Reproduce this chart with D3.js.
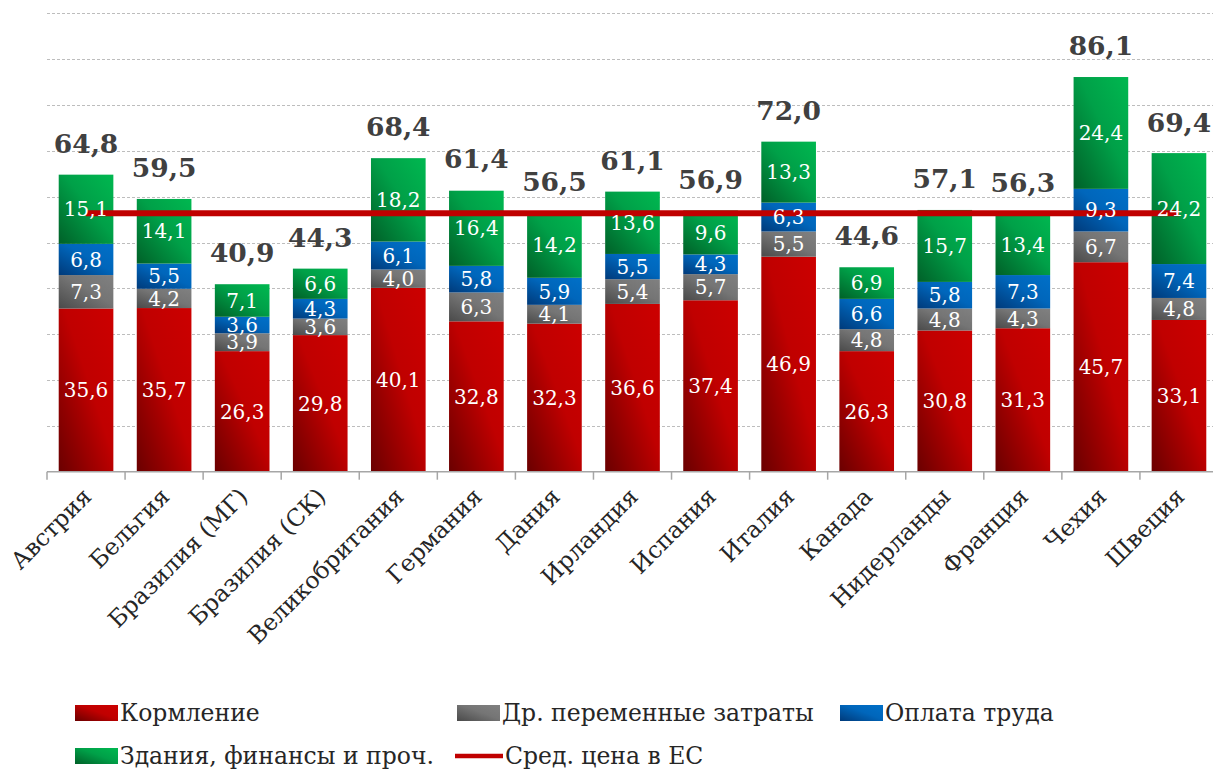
<!DOCTYPE html>
<html><head><meta charset="utf-8">
<script src="https://cdn.jsdelivr.net/npm/d3@7"></script>
<style>
html,body{margin:0;padding:0;background:#fff;}
svg{display:block;}
</style></head>
<body>
<svg id="chart" width="1213" height="771"></svg>
<script>
const categories = ["Австрия","Бельгия","Бразилия (МГ)","Бразилия (СК)","Великобритания","Германия","Дания","Ирландия","Испания","Италия","Канада","Нидерланды","Франция","Чехия","Швеция"];
const feed      = [35.6,35.7,26.3,29.8,40.1,32.8,32.3,36.6,37.4,46.9,26.3,30.8,31.3,45.7,33.1];
const otherVar  = [7.3,4.2,3.9,3.6,4.0,6.3,4.1,5.4,5.7,5.5,4.8,4.8,4.3,6.7,4.8];
const labor     = [6.8,5.5,3.6,4.3,6.1,5.8,5.9,5.5,4.3,6.3,6.6,5.8,7.3,9.3,7.4];
const buildings = [15.1,14.1,7.1,6.6,18.2,16.4,14.2,13.6,9.6,13.3,6.9,15.7,13.4,24.4,24.2];
const totals    = [64.8,59.5,40.9,44.3,68.4,61.4,56.5,61.1,56.9,72.0,44.6,57.1,56.3,86.1,69.4];
const euPrice   = 56.4;
const seriesNames = ["Кормление","Др. переменные затраты","Оплата труда","Здания, финансы и проч."];
const lineName = "Сред. цена в ЕС";
const yTicks = [10,20,30,40,50,60,70,80,90,100];

const seriesData = [feed, otherVar, labor, buildings];
const grads = [
  ["#6a0000","#c00000","#cc0000"],
  ["#4a4a4a","#757575","#808080"],
  ["#003a7a","#0066bb","#0070c8"],
  ["#006028","#00a048","#00b850"]
];

const svg = d3.select("#chart");
const W = 1213;
const pLeft = 47, pRight = 1218, pTop = 13.3, pBottom = 471.7;

const x = d3.scaleBand().domain(categories).range([pLeft, pRight]).paddingInner(0.3).paddingOuter(0.15);
const y = d3.scaleLinear().domain([0, 100]).range([pBottom, pTop]);

const defs = svg.append("defs");
grads.forEach((g, i) => {
  const lg = defs.append("linearGradient").attr("id", "g" + i)
    .attr("x1", 0).attr("y1", 1).attr("x2", 1).attr("y2", 0);
  lg.append("stop").attr("offset", "0").attr("stop-color", g[0]);
  lg.append("stop").attr("offset", "0.55").attr("stop-color", g[1]);
  lg.append("stop").attr("offset", "1").attr("stop-color", g[2]);
});

// gridlines
svg.append("g").selectAll("line").data(yTicks).join("line")
  .attr("x1", pLeft).attr("x2", W)
  .attr("y1", d => Math.round(y(d)) + 0.5).attr("y2", d => Math.round(y(d)) + 0.5)
  .attr("stroke", "#bdbdbd").attr("stroke-width", 1).attr("stroke-dasharray", "3,2");

// stacked data
const rows = categories.map((c, i) => {
  const r = {cat: c};
  seriesData.forEach((s, k) => r["s" + k] = s[i]);
  return r;
});
const stack = d3.stack().keys(["s0","s1","s2","s3"])(rows);

const segG = svg.append("g");
stack.forEach((layer, k) => {
  segG.append("g").selectAll("rect").data(layer).join("rect")
    .attr("x", d => x(d.data.cat))
    .attr("width", x.bandwidth())
    .attr("y", d => y(d[1]))
    .attr("height", d => y(d[0]) - y(d[1]))
    .attr("fill", "url(#g" + k + ")");
});

// axis
const axisG = svg.append("g").attr("transform", `translate(0,${pBottom})`);
axisG.append("line").attr("x1", pLeft).attr("x2", W).attr("y1", 0).attr("y2", 0)
  .attr("stroke", "#a6a6a6").attr("stroke-width", 1.5);
const step = x.step();
const bounds = d3.range(categories.length + 1).map(i => pLeft + i * step);
axisG.selectAll("line.tk").data(bounds).join("line").attr("class", "tk")
  .attr("x1", d => d).attr("x2", d => d).attr("y1", 0).attr("y2", 8)
  .attr("stroke", "#a6a6a6").attr("stroke-width", 1.5);

// EU price line
const cx = c => x(c) + x.bandwidth() / 2;
svg.append("line")
  .attr("x1", cx(categories[0])).attr("x2", cx(categories[categories.length - 1]))
  .attr("y1", y(euPrice)).attr("y2", y(euPrice))
  .attr("stroke", "#c00000").attr("stroke-width", 6);

// segment labels
const fmt = v => v.toFixed(1).replace(".", ",");
stack.forEach((layer, k) => {
  svg.append("g").selectAll("text").data(layer).join("text")
    .attr("x", d => cx(d.data.cat))
    .attr("y", d => (y(d[0]) + y(d[1])) / 2)
    .attr("dy", "0.36em")
    .attr("text-anchor", "middle")
    .attr("fill", "#fff")
    .attr("font-family", "DejaVu Serif, serif")
    .attr("font-size", 20)
    .text(d => fmt(d.data["s" + k]));
});

// totals
svg.append("g").selectAll("text").data(categories).join("text")
  .attr("x", c => cx(c))
  .attr("y", (c, i) => y(totals[i]) - 22)
  .attr("text-anchor", "middle")
  .attr("fill", "#404040")
  .attr("font-family", "DejaVu Serif, serif")
  .attr("font-weight", "bold")
  .attr("font-size", 26.5)
  .text((c, i) => fmt(totals[i]));

// category labels
svg.append("g").selectAll("text").data(categories).join("text")
  .attr("transform", c => `translate(${cx(c) + 7},${498}) rotate(-45)`)
  .attr("text-anchor", "end")
  .attr("fill", "#262626")
  .attr("font-family", "DejaVu Serif, serif")
  .attr("font-size", 23.5)
  .text(c => c);

// legend
const legendItems = [
  {name: seriesNames[0], type: "rect", k: 0, x: 75, y: 713},
  {name: seriesNames[1], type: "rect", k: 1, x: 457, y: 713},
  {name: seriesNames[2], type: "rect", k: 2, x: 840, y: 713},
  {name: seriesNames[3], type: "rect", k: 3, x: 75, y: 756},
  {name: lineName, type: "line", x: 455, y: 756}
];
const lgG = svg.append("g");
legendItems.forEach(it => {
  const g = lgG.append("g").attr("transform", `translate(${it.x},${it.y})`);
  if (it.type === "rect") {
    g.append("rect").attr("x", 0).attr("y", -8).attr("width", 43).attr("height", 16)
      .attr("fill", "url(#g" + it.k + ")");
    g.append("text").attr("x", 45).attr("dy", "0.35em").attr("fill", "#262626")
      .attr("font-family", "DejaVu Serif, serif").attr("font-size", 23.5).text(it.name);
  } else {
    g.append("line").attr("x1", 0).attr("x2", 48).attr("y1", 0).attr("y2", 0)
      .attr("stroke", "#c00000").attr("stroke-width", 4.5);
    g.append("text").attr("x", 50).attr("dy", "0.35em").attr("fill", "#262626")
      .attr("font-family", "DejaVu Serif, serif").attr("font-size", 23.5).text(it.name);
  }
});
</script>
</body></html>
